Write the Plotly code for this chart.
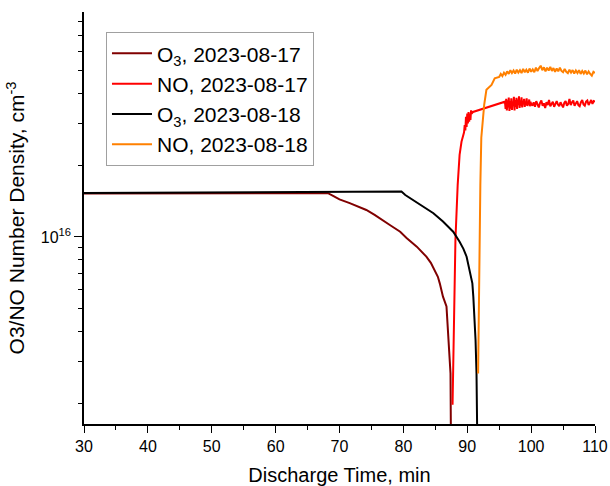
import plotly.graph_objects as go

# ---------------- data ----------------
# O3, 2023-08-17  (time in min, density in cm^-3)
o3_0817_t = [30, 40, 50, 60, 66, 68.2, 69.0, 70.0, 71.6, 73.0, 74.2, 75.5, 76.8, 78.0,
             79.5, 80.5, 82.1, 83.0, 83.6, 84.3, 84.9, 85.4, 85.7, 86.2, 86.75, 87.1,
             87.38, 87.43, 87.5]
o3_0817_y = [1.522e16, 1.524e16, 1.527e16, 1.529e16, 1.530e16, 1.527e16, 1.486e16, 1.438e16,
             1.386e16, 1.337e16, 1.298e16, 1.237e16, 1.178e16, 1.117e16, 1.052e16, 9.90e15,
             9.10e15, 8.60e15, 8.26e15, 7.78e15, 7.26e15, 6.80e15, 6.38e15, 5.61e15, 5.10e15,
             3.69e15, 2.67e15, 1.64e15, 1.20e15]

# NO, 2023-08-17
no_0817_t = [87.7, 87.8, 87.95, 88.15, 88.5, 88.8, 89.1, 89.3, 89.5, 89.6, 89.7, 89.8, 89.9,
             90.0, 90.1, 90.2, 90.3, 90.4, 90.5, 90.6, 90.7, 90.9,
             95.9, 96.0, 96.1, 96.2, 96.3, 96.4, 96.5, 96.6, 96.7, 96.8, 96.9,
             97.0, 97.1, 97.2, 97.3, 97.4, 97.5, 97.6, 97.7, 97.8, 97.9,
             98.0, 98.1, 98.2, 98.3, 98.4, 98.5, 98.6, 98.7, 98.8, 98.9,
             99.0, 99.1, 99.2, 99.3, 99.4, 99.5, 99.6, 99.7, 99.8, 99.9, 100.0,
             100.2, 100.4, 100.6, 100.8, 101.0, 101.2, 101.4, 101.6, 101.8, 102.0,
             102.2, 102.4, 102.6, 102.8, 103.0, 103.2, 103.4, 103.6, 103.8, 104.0,
             104.2, 104.4, 104.6, 104.8, 105.0, 105.2, 105.4, 105.6, 105.8, 106.0,
             106.2, 106.4, 106.6, 106.8, 107.0, 107.2, 107.4, 107.6, 107.8, 108.0,
             108.2, 108.4, 108.6, 108.8, 109.0, 109.2, 109.4, 109.6, 109.8, 110.0]
no_0817_y16 = [0.197, 0.267, 0.510, 0.970, 1.65, 2.21, 2.51, 2.62, 2.75, 2.95, 2.80, 3.20, 2.90,
               3.30, 3.00, 3.35, 3.05, 3.30, 3.10, 3.40, 3.30, 3.35,
               3.70, 3.45, 3.80, 3.40, 3.75, 3.50, 3.85, 3.38, 3.72, 3.46, 3.82,
               3.42, 3.70, 3.55, 3.88, 3.40, 3.76, 3.52, 3.84, 3.45, 3.78,
               3.60, 3.90, 3.48, 3.74, 3.56, 3.86, 3.50, 3.72, 3.62, 3.80,
               3.52, 3.70, 3.58, 3.82, 3.55, 3.68, 3.60, 3.78, 3.54, 3.70, 3.62,
               3.56, 3.68, 3.52, 3.72, 3.58, 3.50, 3.66, 3.74, 3.56, 3.64,
               3.48, 3.68, 3.58, 3.76, 3.54, 3.62, 3.70, 3.52, 3.60, 3.72,
               3.60, 3.54, 3.68, 3.58, 3.50, 3.66, 3.72, 3.56, 3.62, 3.80,
               3.58, 3.68, 3.74, 3.56, 3.66, 3.72, 3.58, 3.54, 3.68, 3.76,
               3.60, 3.56, 3.70, 3.74, 3.58, 3.68, 3.76, 3.62, 3.72, 3.70]

# O3, 2023-08-18
o3_0818_t = [30, 40, 50, 60, 70, 78, 79.7, 80.3, 81.5, 82.3, 83.1, 84.7, 86.2, 87.3, 87.8,
             88.8, 89.4, 89.9, 90.4, 90.8, 90.95, 91.05, 91.3, 91.45, 91.55, 91.6]
o3_0818_y = [1.530e16, 1.533e16, 1.536e16, 1.540e16, 1.544e16, 1.548e16, 1.550e16, 1.500e16,
             1.430e16, 1.385e16, 1.340e16, 1.258e16, 1.160e16, 1.088e16, 1.052e16, 9.55e15,
             8.91e15, 8.26e15, 7.26e15, 6.38e15, 5.61e15, 5.10e15, 3.69e15, 2.67e15,
             1.64e15, 1.20e15]

# NO, 2023-08-18
no_0818_t = [91.7, 91.8, 91.9, 92.05, 92.2, 92.65, 93.0, 93.8, 94.3, 94.8,
             95.0, 95.25, 95.5, 95.75, 96.0, 96.25, 96.5, 96.75, 97.0, 97.25, 97.5, 97.75,
             98.0, 98.25, 98.5, 98.75, 99.0, 99.25, 99.5, 99.75, 100.0, 100.25, 100.5,
             100.75, 101.0, 101.25, 101.5, 101.75, 102.0, 102.25, 102.5, 102.75, 103.0,
             103.25, 103.5, 103.75, 104.0, 104.25, 104.5, 104.75, 105.0, 105.25, 105.5,
             105.75, 106.0, 106.25, 106.5, 106.75, 107.0, 107.25, 107.5, 107.75, 108.0,
             108.25, 108.5, 108.75, 109.0, 109.25, 109.5, 109.75, 110.0]
no_0818_y16 = [0.267, 0.510, 0.970, 1.65, 2.61, 3.59, 4.15, 4.35, 4.64, 4.67,
               4.70, 4.84, 4.74, 4.90, 4.80, 4.96, 4.84, 5.02, 4.88, 5.00, 4.86, 5.04,
               4.90, 5.02, 4.88, 5.08, 4.92, 5.04, 4.90, 5.10, 4.94, 5.06, 4.92,
               5.14, 4.98, 5.12, 5.24, 5.02, 5.16, 4.96, 5.14, 5.00, 5.18,
               4.98, 5.12, 4.94, 5.10, 4.96, 5.14, 4.98, 4.92, 5.08, 4.94,
               4.88, 5.04, 4.90, 5.02, 4.86, 5.00, 4.88, 5.02, 4.84, 4.98,
               4.86, 5.00, 4.82, 4.96, 4.84, 4.76, 4.94, 4.88]

series_names = ["O<sub>3</sub>, 2023-08-17", "NO, 2023-08-17",
                "O<sub>3</sub>, 2023-08-18", "NO, 2023-08-18"]
series_colors = ["#800000", "#ff0000", "#000000", "#ff8000"]

y_tick_vals = [1e16]
y_tick_text = ["10<sup>16</sup>"]
y_minor_vals = [2e15, 3e15, 4e15, 5e15, 6e15, 7e15, 8e15, 9e15,
                2e16, 3e16, 4e16, 5e16, 6e16, 7e16, 8e16]

# ---------------- figure ----------------
FONT = "Liberation Sans, Arial, sans-serif"

no_0817_y = [v * 1e16 for v in no_0817_y16]
no_0818_y = [v * 1e16 for v in no_0818_y16]

xs = [o3_0817_t, no_0817_t, o3_0818_t, no_0818_t]
ys = [o3_0817_y, no_0817_y, o3_0818_y, no_0818_y]

fig = go.Figure()
for name, col, x, y in zip(series_names, series_colors, xs, ys):
    fig.add_trace(go.Scatter(x=x, y=y, mode="lines", name=name,
                             line=dict(color=col, width=2)))

fig.update_layout(
    width=610, height=486,
    margin=dict(l=84, r=15, t=12, b=62),
    paper_bgcolor="white", plot_bgcolor="white",
    font=dict(family=FONT, color="black", size=16),
    showlegend=True,
    legend=dict(
        x=0.043, y=0.951, xanchor="left", yanchor="top",
        bordercolor="#a0a0a0", borderwidth=1, bgcolor="white",
        font=dict(family=FONT, size=21, color="black"),
        tracegroupgap=0, itemwidth=40,
    ),
)

fig.update_xaxes(
    range=[30, 110], dtick=10, tick0=30, automargin=False,
    showline=True, linecolor="black", linewidth=1.6, mirror=False,
    showgrid=False, zeroline=False,
    ticks="outside", ticklen=7, tickwidth=1.4, tickcolor="black",
    tickfont=dict(family=FONT, size=16),
    minor=dict(dtick=5, tick0=30, ticks="outside", ticklen=4, tickwidth=1.2, tickcolor="black"),
    title=dict(text="Discharge Time, min", font=dict(family=FONT, size=20), standoff=17),
)

fig.update_yaxes(
    type="log", range=[15.214, 16.945], automargin=False,
    tickmode="array", tickvals=y_tick_vals, ticktext=y_tick_text,
    showline=True, linecolor="black", linewidth=1.6, mirror=False,
    showgrid=False, zeroline=False,
    ticks="outside", ticklen=8, tickwidth=1.4, tickcolor="black",
    tickfont=dict(family=FONT, size=16),
    minor=dict(tickmode="array", tickvals=y_minor_vals, ticks="outside", ticklen=4,
               tickwidth=1.2, tickcolor="black", showgrid=False),
    title=dict(text="O3/NO Number Density, cm<sup>-3</sup>", font=dict(family=FONT, size=21),
               standoff=10),
)

fig.write_html("out.html",
               config={"displayModeBar": False},
               post_script="document.body.style.margin='0px';document.body.style.padding='0px';")
